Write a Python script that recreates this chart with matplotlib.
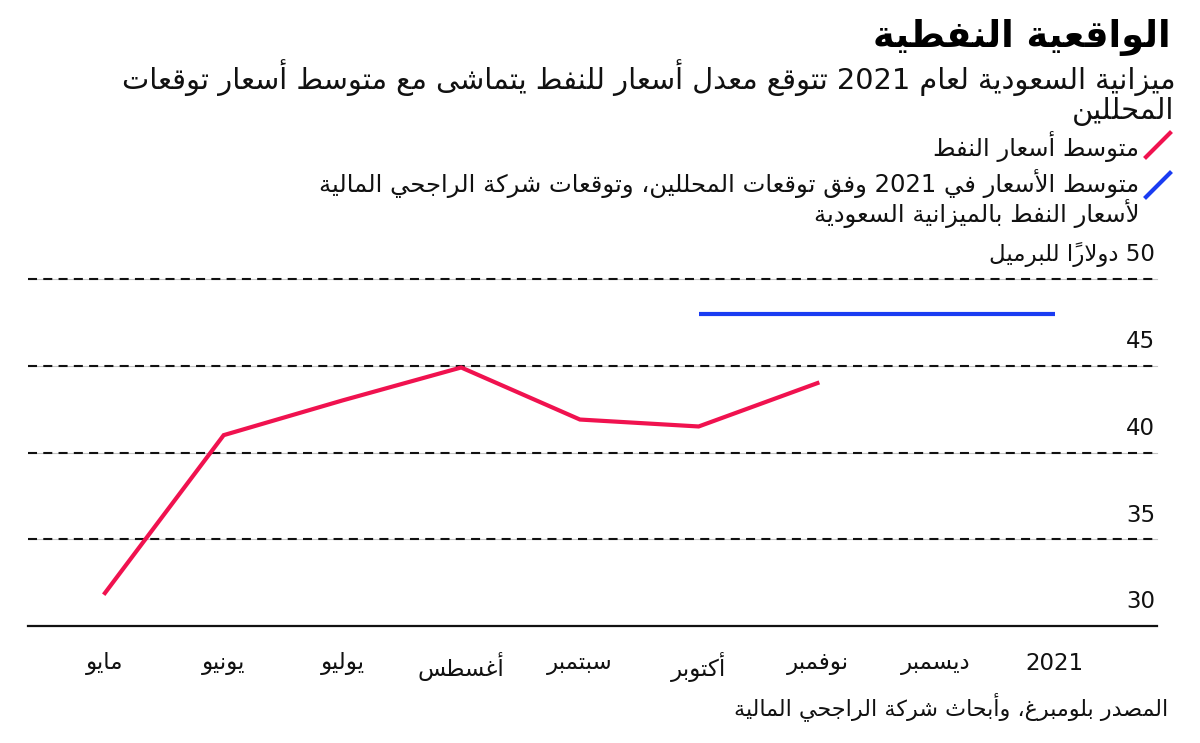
import matplotlib
matplotlib.use('Agg')
import matplotlib.pyplot as plt
import matplotlib.transforms as mtransforms
import numpy as np

# ---------------- data ----------------
months = ['مايو', 'يونيو', 'يوليو', 'أغسطس', 'سبتمبر', 'أكتوبر', 'نوفمبر', 'ديسمبر', '2021']
oil_months = ['مايو', 'يونيو', 'يوليو', 'أغسطس', 'سبتمبر', 'أكتوبر', 'نوفمبر']
oil_avg = [31.9, 41.0, 43.0, 44.9, 41.9, 41.5, 44.0]
forecast_months = ['أكتوبر', '2021']
forecast_avg = [48.0, 48.0]
y_ticks = [30, 35, 40, 45, 50]
y_unit = 'دولاراً للبرميل'

title = 'الواقعية النفطية'
subtitle_1 = 'ميزانية السعودية لعام 2021 تتوقع معدل أسعار للنفط يتماشى مع متوسط أسعار توقعات'
subtitle_2 = 'المحللين'
legend_1 = 'متوسط أسعار النفط'
legend_2a = 'متوسط الأسعار في 2021 وفق توقعات المحللين، وتوقعات شركة الراجحي المالية'
legend_2b = 'لأسعار النفط بالميزانية السعودية'
source = 'المصدر بلومبرغ، وأبحاث شركة الراجحي المالية'

RED = '#f0124f'
BLUE = '#1a3cf2'

# ---------------- minimal Arabic shaping + bidi ----------------
FORMS = {
    'ء': (0xFE80, 'U'), 'آ': (0xFE81, 'R'), 'أ': (0xFE83, 'R'), 'ؤ': (0xFE85, 'R'),
    'إ': (0xFE87, 'R'), 'ئ': (0xFE89, 'D'), 'ا': (0xFE8D, 'R'), 'ب': (0xFE8F, 'D'),
    'ة': (0xFE93, 'R'), 'ت': (0xFE95, 'D'), 'ث': (0xFE99, 'D'), 'ج': (0xFE9D, 'D'),
    'ح': (0xFEA1, 'D'), 'خ': (0xFEA5, 'D'), 'د': (0xFEA9, 'R'), 'ذ': (0xFEAB, 'R'),
    'ر': (0xFEAD, 'R'), 'ز': (0xFEAF, 'R'), 'س': (0xFEB1, 'D'), 'ش': (0xFEB5, 'D'),
    'ص': (0xFEB9, 'D'), 'ض': (0xFEBD, 'D'), 'ط': (0xFEC1, 'D'), 'ظ': (0xFEC5, 'D'),
    'ع': (0xFEC9, 'D'), 'غ': (0xFECD, 'D'), 'ف': (0xFED1, 'D'), 'ق': (0xFED5, 'D'),
    'ك': (0xFED9, 'D'), 'ل': (0xFEDD, 'D'), 'م': (0xFEE1, 'D'), 'ن': (0xFEE5, 'D'),
    'ه': (0xFEE9, 'D'), 'و': (0xFEED, 'R'), 'ى': (0xFEEF, 'R'), 'ي': (0xFEF1, 'D'),
}
LAM_ALEF = {'آ': 0xFEF5, 'أ': 0xFEF7, 'إ': 0xFEF9, 'ا': 0xFEFB}


def is_mark(c):
    return '\u064B' <= c <= '\u065F' or c == '\u0670'


def shape(text):
    ch = list(text)
    n = len(ch)
    res = []

    def prev_i(i):
        j = i - 1
        while j >= 0 and is_mark(ch[j]):
            j -= 1
        return j

    def next_i(i):
        j = i + 1
        while j < n and is_mark(ch[j]):
            j += 1
        return j

    i = 0
    while i < n:
        c = ch[i]
        if c not in FORMS:
            res.append(c)
            i += 1
            continue
        p = prev_i(i)
        cp = p >= 0 and ch[p] in FORMS and FORMS[ch[p]][1] == 'D'
        nx = next_i(i)
        if c == 'ل' and nx < n and ch[nx] in LAM_ALEF:
            res.append(chr(LAM_ALEF[ch[nx]] + (1 if cp else 0)))
            res.extend(ch[i + 1:nx])
            i = nx + 1
            continue
        base, t = FORMS[c]
        cn = t == 'D' and nx < n and ch[nx] in FORMS and FORMS[ch[nx]][1] in 'DR'
        if t == 'U':
            res.append(chr(base))
        elif t == 'R':
            res.append(chr(base + (1 if cp else 0)))
        else:
            if cp and cn:
                res.append(chr(base + 3))
            elif cp:
                res.append(chr(base + 1))
            elif cn:
                res.append(chr(base + 2))
            else:
                res.append(chr(base))
        i += 1
    clusters = []
    for c in res:
        if is_mark(c) and clusters:
            clusters[-1] += c
        else:
            clusters.append(c)
    clusters.reverse()
    out = []
    run = []
    for cl in clusters:
        if cl.isascii() and cl.isalnum():
            run.append(cl)
        else:
            if run:
                out.extend(reversed(run))
                run = []
            out.append(cl)
    if run:
        out.extend(reversed(run))
    return ''.join(out)


# ---------------- figure ----------------
plt.rcParams['font.family'] = ['DejaVu Sans']
plt.rcParams['lines.scale_dashes'] = False

W, H = 1200, 743
fig = plt.figure(figsize=(12, 7.43), dpi=100)


def fx(x):
    return x / W


def fy(y):
    return 1 - y / H


left, right, top, bottom = 28, 1157, 279, 626
ax = fig.add_axes([fx(left), fy(bottom), (right - left) / W, (bottom - top) / H])
x_idx = np.arange(len(months))
ax.set_xlim(-0.648, 8.86)
ax.set_ylim(y_ticks[0], y_ticks[-1])

for s in ['top', 'right', 'left']:
    ax.spines[s].set_visible(False)
ax.spines['bottom'].set_linewidth(1.6)
ax.spines['bottom'].set_color('#111111')
ax.set_yticks([])

# gridlines
for v in y_ticks[1:]:
    ax.axhline(v, color='#c4c4c4', lw=0.8, zorder=1, clip_on=False)
    ax.axhline(v, color='#111111', lw=1.5, linestyle=(0, (6.5, 4.5)), zorder=1.5,
               clip_on=False)

# tick labels (values above gridlines, at the right)
trans = mtransforms.offset_copy(ax.get_yaxis_transform(), fig=fig, x=-2, y=24, units='dots')
for v in y_ticks:
    lab = str(v) if v != y_ticks[-1] else shape(f'{v} {y_unit}')
    ax.text(1.0, v, lab, transform=trans, ha='right', va='center',
            fontsize=16.5, color='#111111')

ax.set_xticks(x_idx)
ax.set_xticklabels([shape(m) for m in months], fontsize=16.5, color='#111111')
ax.tick_params(axis='x', length=0, pad=19)

pos = {m: i for i, m in enumerate(months)}
ax.plot([pos[m] for m in oil_months], oil_avg, color=RED, lw=3.0,
        solid_joinstyle='miter', zorder=3)
ax.plot([pos[m] for m in forecast_months], forecast_avg, color=BLUE, lw=3.0,
        solid_capstyle='butt', zorder=3)

# ---------------- header texts ----------------
fig.text(fx(1171), fy(38), shape(title), ha='right', va='center',
         fontsize=26.5, fontweight='bold', color='#000000')
fig.text(fx(1176), fy(78), shape(subtitle_1), ha='right', va='center',
         fontsize=20.8, color='#111111')
fig.text(fx(1174), fy(111), shape(subtitle_2), ha='right', va='center',
         fontsize=20.8, color='#111111')

fig.add_artist(plt.Line2D([fx(1146), fx(1170)], [fy(157), fy(133)], color=RED, lw=3,
                          transform=fig.transFigure))
fig.add_artist(plt.Line2D([fx(1146), fx(1170)], [fy(197), fy(173)], color=BLUE, lw=3,
                          transform=fig.transFigure))
fig.text(fx(1139), fy(146), shape(legend_1), ha='right', va='center',
         fontsize=17.5, color='#111111')
fig.text(fx(1139), fy(184), shape(legend_2a), ha='right', va='center',
         fontsize=17.5, color='#111111')
fig.text(fx(1139), fy(213), shape(legend_2b), ha='right', va='center',
         fontsize=17.5, color='#111111')

fig.text(fx(1168), fy(707), shape(source), ha='right', va='center',
         fontsize=16, color='#111111')

fig.savefig('out.png', dpi=100, facecolor='white')
